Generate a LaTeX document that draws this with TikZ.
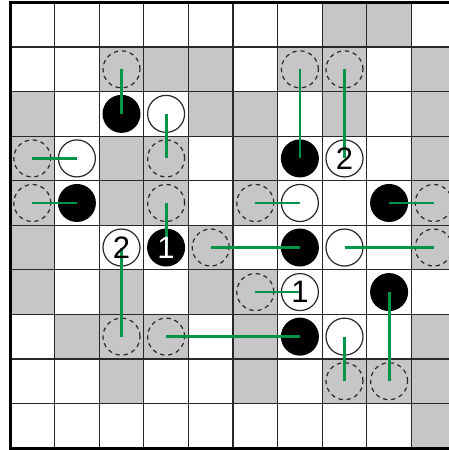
\documentclass[tikz,border=0pt]{standalone}
\usepackage{fontspec}
\setmainfont{Liberation Sans}
\definecolor{cellgray}{RGB}{198,198,198}
\definecolor{linkgreen}{RGB}{0,148,72}
\definecolor{gridcol}{RGB}{40,40,40}
\tikzset{
  gridline/.style={draw=gridcol, line width=1.2pt},
  borderline/.style={draw=black, line width=3pt},
  blackstone/.style={circle, fill=black, minimum size=38pt, inner sep=0pt},
  whitestone/.style={circle, fill=white, draw=gridcol, line width=1.2pt, minimum size=37pt, inner sep=0pt},
  target/.style={circle, draw=gridcol, dash pattern=on 4.3pt off 3.8pt, line width=1.2pt, minimum size=37pt, inner sep=0pt},
  link/.style={draw=linkgreen, line width=2.8pt},
  numtext/.style={inner sep=0pt, font=\fontsize{31}{31}\selectfont}
}
\begin{document}
\begin{tikzpicture}[x=1pt,y=1pt]
\useasboundingbox (0,0) rectangle (449,-450);
\clip (0,0) rectangle (449,-450);
\fill[white] (0,0) rectangle (449,-450);
\begin{scope}[shift={(10,-2.5)}, x=44.6pt, y=-44.55pt]
  % shaded cells
  \foreach \c/\r in {7/0,8/0,
                     2/1,3/1,4/1,6/1,7/1,9/1,
                     0/2,4/2,5/2,7/2,9/2,
                     0/3,2/3,3/3,5/3,9/3,
                     0/4,2/4,3/4,5/4,9/4,
                     0/5,4/5,9/5,
                     0/6,2/6,4/6,5/6,
                     1/7,2/7,3/7,5/7,9/7,
                     2/8,5/8,7/8,8/8,9/8,
                     9/9}
    \fill[cellgray] (\c,\r) rectangle ++(1,1);
  % grid
  \foreach \i in {1,...,9} \draw[gridline] (\i,0) -- (\i,10);
  \foreach \j in {1,...,9} \draw[gridline] (0,\j) -- (10,\j);
  \draw[borderline] (10,0) -- (0,0) -- (0,10) -- (10,10);
  % target (dashed) circles
  \node[target] (t21) at (2.5,1.5) {};
  \node[target] (t61) at (6.5,1.5) {};
  \node[target] (t71) at (7.5,1.5) {};
  \node[target] (t03) at (0.5,3.5) {};
  \node[target] (t33) at (3.5,3.5) {};
  \node[target] (t04) at (0.5,4.5) {};
  \node[target] (t34) at (3.5,4.5) {};
  \node[target] (t54) at (5.5,4.5) {};
  \node[target] (t94) at (9.5,4.5) {};
  \node[target] (t45) at (4.5,5.5) {};
  \node[target] (t95) at (9.5,5.5) {};
  \node[target] (t56) at (5.5,6.5) {};
  \node[target] (t27) at (2.5,7.5) {};
  \node[target] (t37) at (3.5,7.5) {};
  \node[target] (t78) at (7.5,8.5) {};
  \node[target] (t88) at (8.5,8.5) {};
  % black stones
  \node[blackstone] (b22) at (2.5,2.5) {};
  \node[blackstone] (b63) at (6.5,3.5) {};
  \node[blackstone] (b14) at (1.5,4.5) {};
  \node[blackstone] (b84) at (8.5,4.5) {};
  \node[blackstone] (b35) at (3.5,5.5) {};
  \node[blackstone] (b65) at (6.5,5.5) {};
  \node[blackstone] (b86) at (8.5,6.5) {};
  \node[blackstone] (b67) at (6.5,7.5) {};
  % white stones
  \node[whitestone] (w32) at (3.5,2.5) {};
  \node[whitestone] (w13) at (1.5,3.5) {};
  \node[whitestone] (w73) at (7.5,3.5) {};
  \node[whitestone] (w64) at (6.5,4.5) {};
  \node[whitestone] (w25) at (2.5,5.5) {};
  \node[whitestone] (w75) at (7.5,5.5) {};
  \node[whitestone] (w66) at (6.5,6.5) {};
  \node[whitestone] (w77) at (7.5,7.5) {};
  % links
  \draw[link] (t21.center) -- (b22.center);
  \draw[link] (w32.center) -- (t33.center);
  \draw[link] (t03.center) -- (w13.center);
  \draw[link] (t04.center) -- (b14.center);
  \draw[link] (t34.center) -- (b35.center);
  \draw[link] (w25.center) -- (t27.center);
  \draw[link] (t45.center) -- (b65.center);
  \draw[link] (t61.center) -- (b63.center);
  \draw[link] (t71.center) -- (w73.center);
  \draw[link] (t54.center) -- (w64.center);
  \draw[link] (b84.center) -- (t94.center);
  \draw[link] (w75.center) -- (t95.center);
  \draw[link] (t56.center) -- (w66.center);
  \draw[link] (b86.center) -- (t88.center);
  \draw[link] (t37.center) -- (b67.center);
  \draw[link] (w77.center) -- (t78.center);
  % numbers
  \node[numtext, text=white] (n35) at (b35.center) {1};
  \node[numtext] (n25) at (w25.center) {2};
  \node[numtext] (n73) at (w73.center) {2};
  \node[numtext] (n66) at (w66.center) {1};
\end{scope}
\end{tikzpicture}
\end{document}
